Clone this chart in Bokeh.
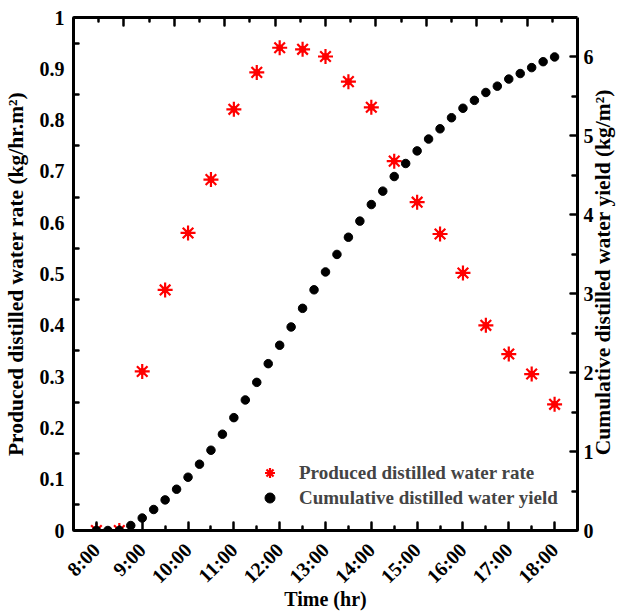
import math
from bokeh.plotting import figure
from bokeh.models import (Range1d, LinearAxis, FixedTicker, Legend, LegendItem)
from bokeh.embed import file_html
from bokeh.resources import INLINE

# ---------------- data ----------------
rate_time = [8.0, 8.5, 9.0, 9.5, 10.0, 10.5, 11.0, 11.5, 12.0, 12.5, 13.0,
             13.5, 14.0, 14.5, 15.0, 15.5, 16.0, 16.5, 17.0, 17.5, 18.0]
rate = [0.0, 0.0, 0.310, 0.469, 0.580, 0.684, 0.821, 0.893, 0.941, 0.938, 0.924,
        0.875, 0.825, 0.720, 0.640, 0.578, 0.502, 0.400, 0.344, 0.305, 0.246]

yield_time = [8.0, 8.25, 8.5, 8.75, 9.0, 9.25, 9.5, 9.75, 10.0, 10.25, 10.5,
              10.75, 11.0, 11.25, 11.5, 11.75, 12.0, 12.25, 12.5, 12.75, 13.0,
              13.25, 13.5, 13.75, 14.0, 14.25, 14.5, 14.75, 15.0, 15.25, 15.5,
              15.75, 16.0, 16.25, 16.5, 16.75, 17.0, 17.25, 17.5, 17.75, 18.0]
cum_yield = [0.0, 0.0, 0.0, 0.063, 0.158, 0.266, 0.388, 0.523, 0.675, 0.840, 1.017,
             1.220, 1.430, 1.654, 1.877, 2.114, 2.347, 2.579, 2.815, 3.050, 3.276,
             3.498, 3.716, 3.920, 4.130, 4.300, 4.485, 4.650, 4.810, 4.960, 5.090,
             5.230, 5.350, 5.450, 5.550, 5.630, 5.720, 5.790, 5.865, 5.940, 6.000]

hour_ticks = [8, 9, 10, 11, 12, 13, 14, 15, 16, 17, 18]
hour_labels = ["8:00", "9:00", "10:00", "11:00", "12:00", "13:00", "14:00",
               "15:00", "16:00", "17:00", "18:00"]
half_hour_ticks = [8.5, 9.5, 10.5, 11.5, 12.5, 13.5, 14.5, 15.5, 16.5, 17.5]

left_ticks = [0, 0.1, 0.2, 0.3, 0.4, 0.5, 0.6, 0.7, 0.8, 0.9, 1.0]
left_labels = ["0", "0.1", "0.2", "0.3", "0.4", "0.5", "0.6", "0.7", "0.8", "0.9", "1"]
left_minor = [0.05, 0.15, 0.25, 0.35, 0.45, 0.55, 0.65, 0.75, 0.85, 0.95]
right_ticks = [0, 1, 2, 3, 4, 5, 6]
right_minor = [0.5, 1.5, 2.5, 3.5, 4.5, 5.5]
top_ticks = [0.1, 0.2, 0.3, 0.4, 0.5, 0.6, 0.7, 0.8, 0.9]
top_minor = [0.05, 0.15, 0.25, 0.35, 0.45, 0.55, 0.65, 0.75, 0.85, 0.95]

FONT = "Liberation Serif"

p = figure(width=629, height=614, output_backend="svg", toolbar_location=None,
           x_range=Range1d(7.5, 18.5), y_range=Range1d(0, 1),
           min_border_left=70, min_border_right=47, min_border_top=17,
           min_border_bottom=84, x_axis_location=None, y_axis_location=None)
p.grid.visible = False
p.outline_line_color = None
p.background_fill_color = "white"
p.border_fill_color = "white"
p.extra_y_ranges = {"right": Range1d(0, 6.5)}
p.extra_x_ranges = {"top": Range1d(0, 1)}


def style(ax, size="20px"):
    ax.axis_line_width = 3
    ax.axis_line_color = "black"
    ax.major_tick_line_width = 2.5
    ax.minor_tick_line_width = 2.5
    ax.major_tick_line_cap = "round"
    ax.minor_tick_line_cap = "round"
    ax.major_tick_out = 0
    ax.minor_tick_out = 0
    ax.major_label_text_font = FONT
    ax.major_label_text_font_style = "bold"
    ax.major_label_text_font_size = size
    ax.major_label_text_color = "black"
    ax.axis_label_text_font = FONT
    ax.axis_label_text_font_style = "bold"
    ax.axis_label_text_color = "black"


xb = LinearAxis(ticker=FixedTicker(ticks=hour_ticks, minor_ticks=half_hour_ticks),
                axis_label="Time (hr)")
style(xb, "20px")
xb.major_label_overrides = {t: l for t, l in zip(hour_ticks, hour_labels)}
xb.major_label_orientation = 0.785398
xb.major_tick_in = 8
xb.minor_tick_in = 4
xb.major_label_standoff = 16
xb.axis_label_standoff = -10
xb.axis_label_text_font_size = "20px"
p.add_layout(xb, "below")

xt = LinearAxis(x_range_name="top",
                ticker=FixedTicker(ticks=top_ticks, minor_ticks=top_minor))
style(xt)
xt.major_label_overrides = {t: "" for t in top_ticks}
xt.major_label_standoff = 0
xt.major_tick_in = 8
xt.minor_tick_in = 4
p.add_layout(xt, "above")

yl = LinearAxis(ticker=FixedTicker(ticks=left_ticks, minor_ticks=left_minor),
                axis_label="Produced distilled water rate (kg/hr.m\u00b2)")
style(yl)
yl.major_label_overrides = {t: l for t, l in zip(left_ticks, left_labels)}
yl.major_tick_in = 0
yl.minor_tick_in = 5
yl.major_label_standoff = 9
yl.axis_label_standoff = 9
yl.axis_label_text_font_size = "21.5px"
p.add_layout(yl, "left")

yr = LinearAxis(y_range_name="right",
                ticker=FixedTicker(ticks=right_ticks, minor_ticks=right_minor),
                axis_label="\u00a0" * 14 + "Cumulative distilled water yield (kg/m\u00b2)")
style(yr)
yr.major_tick_in = 7
yr.minor_tick_in = 5
yr.major_label_standoff = 6
yr.axis_label_standoff = 6
yr.axis_label_text_font_size = "21.5px"
yr.axis_label_orientation = math.pi / 2
yr.axis_label_align = "start"
p.add_layout(yr, "right")

# rate series (red stars)
r1 = p.scatter(rate_time, rate, marker="asterisk", size=15, line_color="red",
               line_width=2.2)
r2 = p.scatter(rate_time, rate, marker="circle", size=6, fill_color="red",
               line_color="red")
# cumulative series (black dots)
r3 = p.scatter(yield_time, cum_yield, y_range_name="right", marker="circle",
               size=8.5, fill_color="black", line_color="black")

legend = Legend(items=[LegendItem(label="Produced distilled water rate", renderers=[r1]),
                       LegendItem(label="Cumulative distilled water yield", renderers=[r3])],
                location=(184, 20), padding=0, margin=0, spacing=0,
                label_standoff=17, glyph_width=25, glyph_height=25,
                label_text_font=FONT, label_text_font_style="bold",
                label_text_font_size="19px", border_line_alpha=0,
                background_fill_alpha=0)
p.add_layout(legend)

open("out.html", "w").write(file_html(p, INLINE))
